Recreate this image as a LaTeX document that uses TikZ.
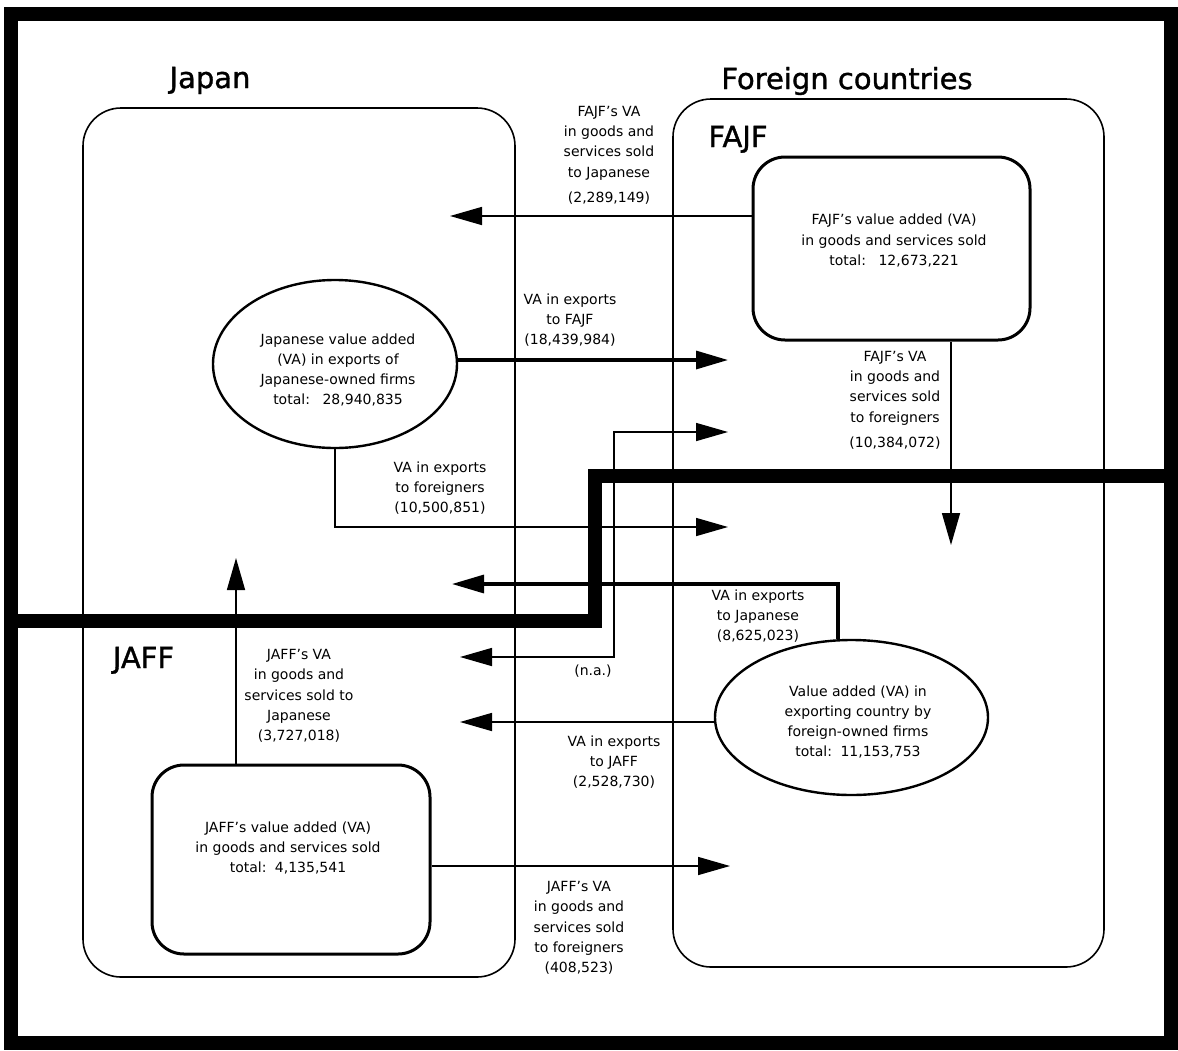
\documentclass[tikz,border=0pt]{standalone}
\usepackage{fontspec}
\setmainfont{DejaVu Sans}
\newfontfamily\titlefont[FakeBold=1.2]{DejaVu Sans}
\usetikzlibrary{shapes.geometric,arrows.meta}
\begin{document}
\begin{tikzpicture}[x=1pt,y=-1pt,
  lbl/.style={font=\fontsize{14}{20.3}\selectfont, align=center, inner sep=0pt},
  ttl/.style={font=\titlefont\fontsize{29}{34}\selectfont, inner sep=0pt, anchor=base},
  region/.style={draw, line width=1.6pt, rounded corners=38pt, inner sep=0pt},
  firm/.style={draw, line width=3pt, rounded corners=32pt, inner sep=0pt},
  oval/.style={draw, ellipse, line width=2.4pt, inner sep=0pt},
  Big/.tip={Triangle[length=32pt,width=18pt]},
  flow/.style={line width=1.6pt, -Big},
  bothflow/.style={line width=1.6pt, Big-Big},
  bigflow/.style={line width=3.2pt, -Big},
  frame/.style={line width=14pt},
]
\fill[white] (0,0) rectangle (1178,1050);
\useasboundingbox (0,0) rectangle (1178,1050);

% regions
\node[region, minimum width=432pt, minimum height=869pt] (japan) at (299,542.5) {};
\node[region, minimum width=431pt, minimum height=868pt] (foreign) at (888.5,533) {};

% titles
\node[ttl] (tjapan) at (210,88) {Japan};
\node[ttl] (tforeign) at (847,89) {Foreign countries};
\node[ttl] (tfajf) at (738,147) {FAJF};
\node[ttl] (tjaff) at (143.5,668) {JAFF};

% firms and value-added ovals
\node[firm, minimum width=277pt, minimum height=183pt,
  label={[lbl,xshift=2.5pt,yshift=8pt]center:{FAJF's value added (VA)\\in goods and services sold\\total:\hspace{0.9em}12,673,221}}]
  (fajf) at (891.5,248.5) {};
\node[firm, minimum width=278pt, minimum height=189pt,
  label={[lbl,xshift=-3pt,yshift=11.5pt]center:{JAFF's value added (VA)\\in goods and services sold\\total:\hspace{0.6em}4,135,541}}]
  (jaff) at (291,859.5) {};
\node[oval, minimum width=244pt, minimum height=168pt,
  label={[lbl,xshift=3pt,yshift=-6pt]center:{Japanese value added\\(VA) in exports of\\Japanese-owned firms\\total:\hspace{0.9em}28,940,835}}]
  (jve) at (335,364) {};
\node[oval, minimum width=273pt, minimum height=155pt,
  label={[lbl,xshift=6.5pt,yshift=-4.5pt]center:{Value added (VA) in\\exporting country by\\foreign-owned firms\\total:\hspace{0.6em}11,153,753}}]
  (fve) at (851.5,717.5) {};

% arrow end points
\coordinate (t1) at (450,216);
\coordinate (t2) at (728,360);
\coordinate (t3) at (951,545);
\coordinate (t4) at (728,527);
\coordinate (na1) at (460,657);
\coordinate (nak) at (614,432);
\coordinate (na2) at (728,432);
\coordinate (t6) at (452,584);
\coordinate (t7) at (460,722);
\coordinate (t8) at (236,558);
\coordinate (t9) at (730,866);

% flows
\draw[flow] (fajf.west |- t1) -- (t1);
\draw[bigflow] (jve.east |- t2) -- (t2);
\draw[flow] (fajf.south -| t3) -- (t3);
\draw[flow] (jve.south) |- (t4);
\draw[bothflow] (na1) -| (nak) -- (na2);
\draw[bigflow] ([xshift=-13.5pt]fve.north) |- (t6);
\draw[flow] (fve.west |- t7) -- (t7);
\draw[flow] (jaff.north -| t8) -- (t8);
\draw[flow] (jaff.east |- t9) -- (t9);

% flow labels
\node[lbl] (l1) at (609,155) {FAJF's VA\\in goods and\\services sold\\to Japanese\\[4.5pt](2,289,149)};
\node[lbl] (l2) at (570,320) {VA in exports\\to FAJF\\(18,439,984)};
\node[lbl] (l3) at (895,400) {FAJF's VA\\in goods and\\services sold\\to foreigners\\[4.5pt](10,384,072)};
\node[lbl] (l4) at (440,488) {VA in exports\\to foreigners\\(10,500,851)};
\node[lbl] (l5) at (593,671) {(n.a.)};
\node[lbl] (l6) at (758,616) {VA in exports\\to Japanese\\(8,625,023)};
\node[lbl] (l7) at (614,762) {VA in exports\\to JAFF\\(2,528,730)};
\node[lbl] (l8) at (299,696) {JAFF's VA\\in goods and\\services sold to\\Japanese\\(3,727,018)};
\node[lbl] (l9) at (579,928) {JAFF's VA\\in goods and\\services sold\\to foreigners\\(408,523)};

% outer frame and divider
\draw[frame] (11,13.5) rectangle (1171,1043);
\draw[frame] (11,621) -- (594.5,621) -- (594.5,476) -- (1171,476);
\end{tikzpicture}
\end{document}
